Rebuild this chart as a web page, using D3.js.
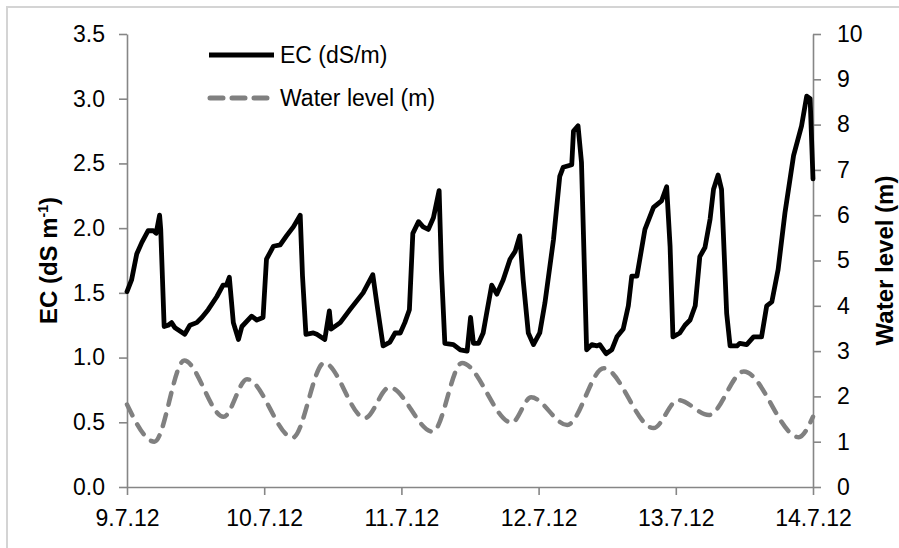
<!DOCTYPE html>
<html>
<head>
<meta charset="utf-8">
<script src="https://cdn.jsdelivr.net/npm/d3@7"></script>
<style>
  body { margin: 0; background: #fff; }
  svg { display: block; font-family: "Liberation Sans", Arial, sans-serif; }
</style>
</head>
<body>
<div id="vis-container"></div>
<script>
// hours after 9.7.12 00:00, EC in dS/m
var ecHours = [0.0, 0.8, 1.7, 2.6, 3.7, 4.6, 5.1, 5.7, 5.9, 6.5, 7.2, 7.8, 8.4, 10.1, 11.0, 12.2, 13.1, 14.2, 15.7, 16.8,
  17.4, 17.9, 18.6, 19.5, 20.1, 21.8, 22.7, 23.8, 24.4, 25.6, 26.8, 27.9, 29.1, 30.3, 30.7, 31.3, 32.6, 33.2, 34.6, 35.4,
  35.7, 37.3, 39.0, 41.3, 43.0, 43.7, 44.8, 46.0, 46.9, 47.8, 48.6, 49.4, 50.0, 51.0, 51.8, 52.7, 53.6, 54.6, 55.0, 55.6,
  57.1, 58.3, 59.5, 60.1, 60.6, 61.5, 62.3, 62.9, 63.8, 64.7, 65.8, 67.0, 67.9, 68.7, 69.3, 70.2, 71.1, 72.2, 73.1, 74.6,
  75.7, 76.3, 77.8, 78.1, 78.9, 79.5, 80.4, 81.3, 82.2, 82.7, 83.8, 84.8, 85.7, 86.8, 87.7, 88.3, 89.2, 90.6, 92.1, 93.5,
  94.4, 95.0, 95.5, 96.7, 97.6, 98.5, 99.4, 100.2, 101.1, 102.0, 102.6, 103.4, 104.0, 104.9, 105.5, 106.7, 107.2, 108.4,
  109.6, 111.0, 111.9, 112.8, 113.9, 115.1, 116.6, 118.0, 118.9, 119.5, 120.0];
var ecValues = [1.51, 1.60, 1.80, 1.89, 1.98, 1.98, 1.96, 2.10, 1.99, 1.24, 1.25, 1.27, 1.23, 1.18, 1.25, 1.27, 1.31, 1.37, 1.47, 1.56,
  1.56, 1.62, 1.27, 1.14, 1.24, 1.32, 1.29, 1.31, 1.76, 1.86, 1.87, 1.94, 2.01, 2.10, 1.63, 1.18, 1.19, 1.18, 1.14, 1.36,
  1.22, 1.27, 1.37, 1.50, 1.64, 1.42, 1.09, 1.12, 1.19, 1.19, 1.27, 1.37, 1.96, 2.05, 2.01, 1.99, 2.08, 2.29, 1.68, 1.11,
  1.10, 1.06, 1.05, 1.31, 1.11, 1.11, 1.19, 1.34, 1.56, 1.49, 1.60, 1.76, 1.82, 1.94, 1.60, 1.19, 1.10, 1.19, 1.42, 1.91,
  2.40, 2.47, 2.49, 2.75, 2.79, 2.51, 1.06, 1.10, 1.09, 1.10, 1.03, 1.06, 1.16, 1.22, 1.40, 1.63, 1.63, 1.99, 2.16, 2.21,
  2.32, 1.86, 1.16, 1.19, 1.25, 1.29, 1.40, 1.78, 1.85, 2.07, 2.30, 2.41, 2.30, 1.34, 1.09, 1.09, 1.11, 1.10,
  1.16, 1.16, 1.40, 1.43, 1.68, 2.12, 2.56, 2.79, 3.02, 3.00, 2.38];

// water level in m (highs and lows)
var wlHours = [0.0, 4.8, 10.0, 16.9, 21.0, 29.0, 34.5, 41.6, 45.9, 53.5, 58.6, 67.3, 70.7, 77.0, 83.4, 92.1, 96.4, 101.8, 107.9, 117.5, 120.0];
var wlValues = [1.82, 1.00, 2.79, 1.55, 2.38, 1.09, 2.74, 1.52, 2.20, 1.22, 2.74, 1.42, 1.98, 1.37, 2.62, 1.30, 1.92, 1.59, 2.55, 1.10, 1.55];

var dayLabels = ["9.7.12", "10.7.12", "11.7.12", "12.7.12", "13.7.12", "14.7.12"];
var ecTicks = [0, 0.5, 1.0, 1.5, 2.0, 2.5, 3.0, 3.5];
var wlTicks = [0, 1, 2, 3, 4, 5, 6, 7, 8, 9, 10];
var legendLabels = ["EC (dS/m)", "Water level (m)"];

var width = 899;
var height = 548;
var plotLeft = 127, plotRight = 813, plotTop = 34, plotBottom = 487;
var axisColor = "#868686";
var start = new Date(2012, 6, 9);

function toDate(h) {
  return new Date(start.getTime() + h * 3600 * 1000);
}

var svg = d3.select("#vis-container")
  .append("svg")
  .attr("width", width)
  .attr("height", height);

// outer frame, cut by the picture edge
svg.append("rect")
  .attr("x", 7).attr("y", 7)
  .attr("width", 940).attr("height", 600)
  .attr("fill", "none")
  .attr("stroke", "#d4d4d4")
  .attr("stroke-width", 2);

var xscale = d3.scaleTime().domain([start, toDate(120)]).range([plotLeft, plotRight]);
var yscale = d3.scaleLinear().domain([0, 3.5]).range([plotBottom, plotTop]);
var y2scale = d3.scaleLinear().domain([0, 10]).range([plotBottom, plotTop]);

var xaxis = d3.axisBottom(xscale)
  .tickValues(dayLabels.map(function(d, i) { return toDate(i * 24); }))
  .tickFormat(function(d, i) { return dayLabels[i]; })
  .tickSize(8).tickPadding(15).tickSizeOuter(0);
var yaxis = d3.axisLeft(yscale)
  .tickValues(ecTicks).tickFormat(d3.format(".1f"))
  .tickSize(8).tickPadding(14).tickSizeOuter(0);
var y2axis = d3.axisRight(y2scale)
  .tickValues(wlTicks).tickFormat(d3.format("d"))
  .tickSize(8).tickPadding(16).tickSizeOuter(0);

function styleAxis(g) {
  g.selectAll("path, line").attr("stroke", axisColor).attr("stroke-width", 1.6);
  g.selectAll("text").attr("fill", "#000").style("font-size", "23px");
}

svg.append("g").attr("transform", "translate(0," + plotBottom + ")").call(xaxis).call(styleAxis);
svg.append("g").attr("transform", "translate(" + plotLeft + ",0)").call(yaxis).call(styleAxis);
svg.append("g").attr("transform", "translate(" + plotRight + ",0)").call(y2axis).call(styleAxis);

// axis titles
var ecTitle = svg.append("text")
  .attr("transform", "translate(57," + ((plotTop + plotBottom) / 2) + ") rotate(-90)")
  .attr("text-anchor", "middle")
  .style("font-size", "24px").style("font-weight", "bold");
ecTitle.append("tspan").text("EC (dS m");
ecTitle.append("tspan").attr("dy", -9).style("font-size", "14px").text("-1");
ecTitle.append("tspan").attr("dy", 9).text(")");

svg.append("text")
  .attr("transform", "translate(893," + ((plotTop + plotBottom) / 2) + ") rotate(-90)")
  .attr("text-anchor", "middle")
  .style("font-size", "24px").style("font-weight", "bold")
  .text("Water level (m)");

// water level line (right axis)
var wlLine = d3.line()
  .x(function(d, i) { return xscale(toDate(wlHours[i])); })
  .y(function(d) { return y2scale(d); })
  .curve(d3.curveMonotoneX);

svg.append("path")
  .attr("d", wlLine(wlValues))
  .attr("fill", "none")
  .attr("stroke", "#808080")
  .attr("stroke-width", 4.5)
  .attr("stroke-linecap", "round")
  .attr("stroke-dasharray", "12,10");

// EC line (left axis)
var ecLine = d3.line()
  .x(function(d, i) { return xscale(toDate(ecHours[i])); })
  .y(function(d) { return yscale(d); });

svg.append("path")
  .attr("d", ecLine(ecValues))
  .attr("fill", "none")
  .attr("stroke", "#000")
  .attr("stroke-width", 4.8)
  .attr("stroke-linejoin", "round")
  .attr("stroke-linecap", "round");

// legend
var legend = svg.append("g");
legend.append("line")
  .attr("x1", 209).attr("x2", 274).attr("y1", 55).attr("y2", 55)
  .attr("stroke", "#000").attr("stroke-width", 5);
legend.append("line")
  .attr("x1", 210).attr("x2", 270).attr("y1", 98).attr("y2", 98)
  .attr("stroke", "#808080").attr("stroke-width", 5)
  .attr("stroke-linecap", "round").attr("stroke-dasharray", "13,9");
legend.selectAll("text.leg")
  .data(legendLabels)
  .enter()
  .append("text")
  .attr("class", "leg")
  .attr("x", 280)
  .attr("y", function(d, i) { return 63 + i * 43; })
  .style("font-size", "23px")
  .text(function(d) { return d; });
</script>
</body>
</html>
